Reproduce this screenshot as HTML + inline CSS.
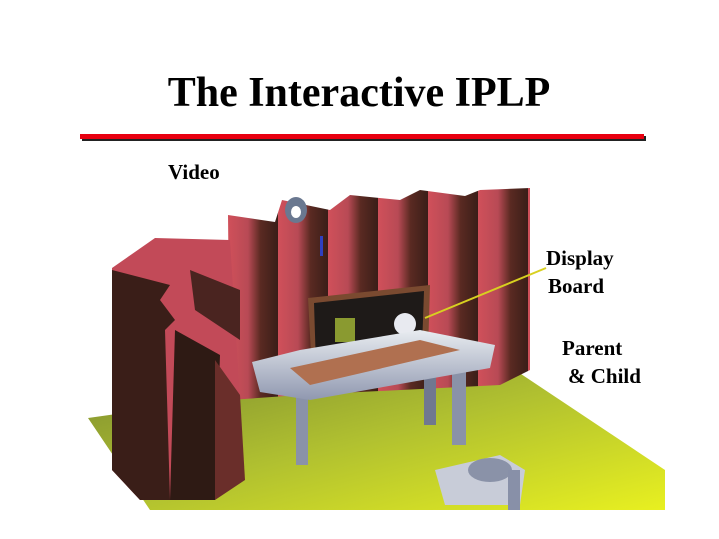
<!DOCTYPE html>
<html><head><style>
html,body{margin:0;padding:0;background:#fff;width:719px;height:539px;overflow:hidden}
</style></head><body>
<svg width="719" height="539" xmlns="http://www.w3.org/2000/svg" font-family="Liberation Serif, serif" font-weight="bold">
<defs>
<linearGradient id="cur" x1="0" x2="1" y1="0" y2="0" spreadMethod="repeat">
<stop offset="0" stop-color="#d0505a"/><stop offset="0.4" stop-color="#b84a55"/><stop offset="0.65" stop-color="#5a2a22"/><stop offset="1" stop-color="#3a1e18"/>
</linearGradient>
<pattern id="stripes" width="50" height="600" patternUnits="userSpaceOnUse" x="228">
<rect width="50" height="600" fill="url(#cur)"/>
</pattern>
<linearGradient id="floor" x1="0" y1="0" x2="1" y2="1">
<stop offset="0" stop-color="#7a8a30"/><stop offset="0.5" stop-color="#b0c030"/><stop offset="1" stop-color="#e8f020"/>
</linearGradient>
<linearGradient id="wt" x1="0" y1="0" x2="0" y2="1"><stop offset="0" stop-color="#e8ecf0"/><stop offset="1" stop-color="#9098b0"/></linearGradient>
</defs>
<text x="359" y="106" text-anchor="middle" font-size="42">The Interactive IPLP</text>
<rect x="82" y="136" width="564" height="5" fill="#222"/>
<rect x="80" y="134" width="564" height="5" fill="#e80010"/>
<text x="168" y="179" font-size="21">Video</text>
<polygon points="88,418 500,360 665,470 665,510 150,510" fill="url(#floor)"/>
<path d="M228,215 L275,222 L282,200 L330,210 L350,195 L400,200 L420,190 L465,196 L480,190 L530,188 L530,370 L500,385 L300,395 L230,400 Z" fill="url(#stripes)"/>
<path d="M112,268 L155,238 L230,240 L240,400 L230,470 L215,500 L140,500 L112,470 Z" fill="#c24a58"/>
<polygon points="112,270 170,285 160,300 175,320 165,330 170,500 140,500 112,470" fill="#3a1e18"/>
<polygon points="175,330 220,355 215,500 170,500" fill="#2e1a14"/>
<polygon points="215,360 240,395 245,480 215,500" fill="#6a2e2a"/>
<polygon points="190,270 240,290 240,340 195,310" fill="#4a2420"/>
<ellipse cx="296" cy="210" rx="11" ry="13" fill="#6a7890"/><ellipse cx="296" cy="212" rx="5" ry="6" fill="#fff"/>
<rect x="320" y="236" width="3" height="20" fill="#3040c0"/>
<polygon points="308,298 430,285 428,352 312,372" fill="#7a4a30"/>
<polygon points="314,303 424,291 422,348 316,366" fill="#1e1a18"/>
<rect x="335" y="318" width="20" height="24" fill="#8a9a30"/>
<circle cx="405" cy="324" r="11" fill="#e8eaf0"/>
<line x1="425" y1="318" x2="546" y2="268" stroke="#d8d020" stroke-width="2"/>
<rect x="296" y="395" width="12" height="70" fill="#8a92a8"/>
<rect x="452" y="370" width="14" height="75" fill="#8a92a8"/>
<rect x="424" y="375" width="12" height="50" fill="#707890"/>
<polygon points="252,362 300,350 420,330 495,345 490,368 310,400 260,392" fill="url(#wt)"/>
<polygon points="290,368 420,340 460,350 310,385" fill="#b07050"/>
<polygon points="435,470 500,455 525,470 520,505 445,505" fill="#c8ccd8"/>
<ellipse cx="490" cy="470" rx="22" ry="12" fill="#8a92a8"/>
<rect x="508" y="470" width="12" height="40" fill="#8890a8"/>
<text x="546" y="265" font-size="21">Display</text>
<text x="548" y="293" font-size="21">Board</text>
<text x="562" y="355" font-size="21">Parent</text>
<text x="568" y="383" font-size="21">&amp; Child</text>
</svg>
</body></html>
